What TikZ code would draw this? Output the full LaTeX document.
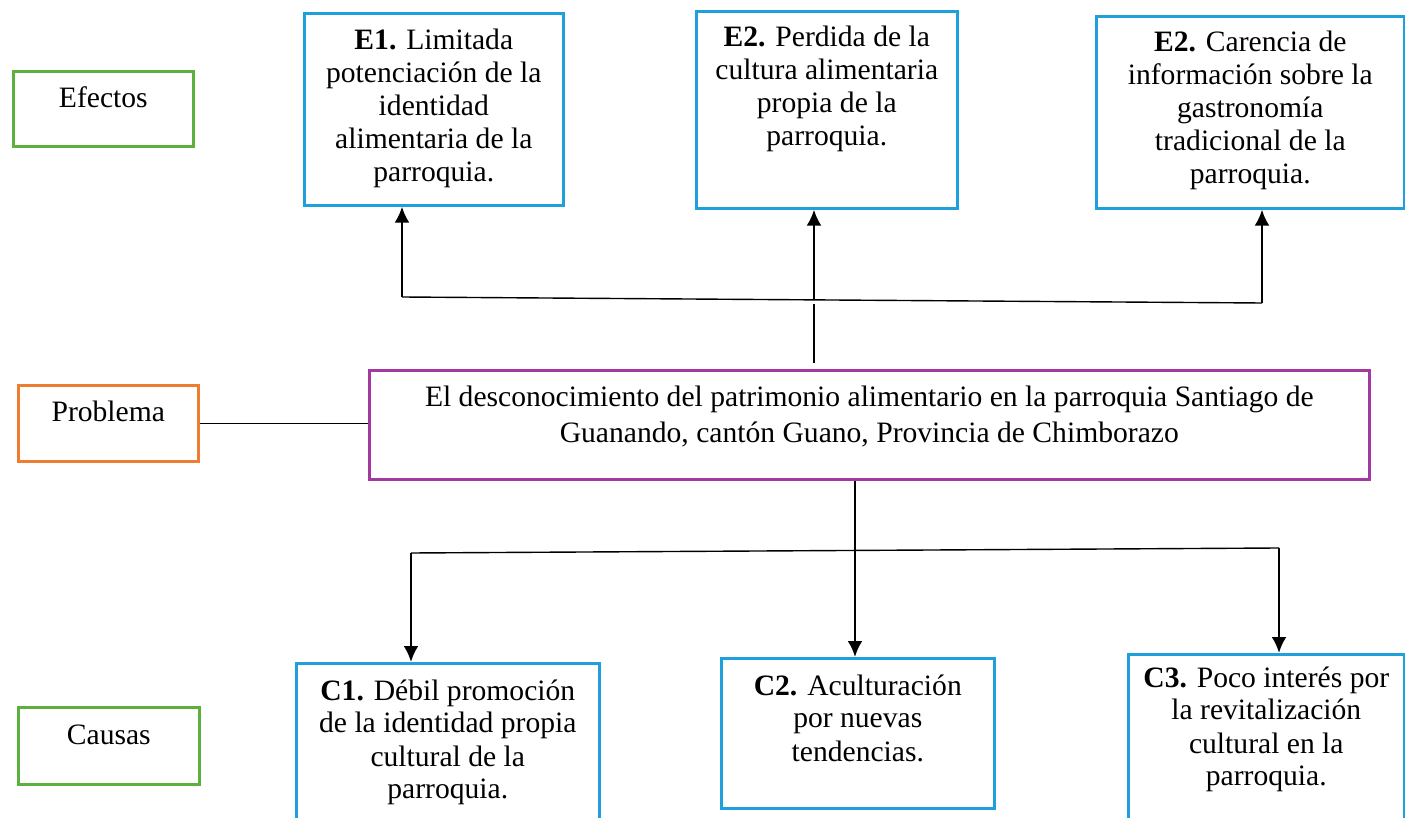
\documentclass[tikz,border=0pt]{standalone}
\usepackage{fontspec}
\setmainfont{Liberation Serif}
\usetikzlibrary{arrows.meta}

\definecolor{boxblue}{RGB}{30,160,218}
\definecolor{boxgreen}{RGB}{92,176,60}
\definecolor{boxorange}{RGB}{237,125,49}
\definecolor{boxpurple}{RGB}{163,57,160}

\tikzset{
  frame/.style={draw=#1, line width=1.3pt, inner sep=0pt, anchor=north west},
  txt/.style={anchor=base, inner sep=0pt},
  conn/.style={line width=0.7pt},
  arr/.style={line width=1.3pt, -{Latex[length=8pt,width=7.5pt]}}
}
\newcommand{\boxtext}[2]{\parbox[t]{#1}{\centering #2}}

\begin{document}
\begin{tikzpicture}[x=0.5pt, y=-0.5pt, font=\fontsize{14.8}{16.5}\selectfont]
        \useasboundingbox (0,0) rectangle (1405,818);
        \clip (0,0) rectangle (1405,818);

        % row labels
        \node[frame=boxgreen, minimum width=90pt, minimum height=37.5pt] (efectos) at (12,70) {};
        \node[frame=boxorange, minimum width=90pt, minimum height=38pt] (problema) at (17,384) {};
        \node[frame=boxgreen, minimum width=90.5pt, minimum height=38.5pt] (causas) at (17,706) {};

        \node[txt] (efectost) at ([yshift=-19pt]efectos.north) {Efectos};
        \node[txt] (problemat) at ([yshift=-19pt]problema.north) {Problema};
        \node[txt] (causast) at ([yshift=-19pt]causas.north) {Causas};

        % effects
        \node[frame=boxblue, minimum width=129.5pt, minimum height=96pt] (e1) at (303,12) {};
        \node[frame=boxblue, minimum width=130.5pt, minimum height=98.5pt] (e2) at (695,10) {};
        \node[frame=boxblue, minimum width=154pt, minimum height=96pt] (e3) at (1095,15) {};

        \node[txt] (e1t) at ([yshift=-19pt]e1.north) {\boxtext{125pt}{\textbf{E1.} Limitada\\potenciación de la\\identidad\\alimentaria de la\\parroquia.}};
        \node[txt] (e2t) at ([yshift=-18.5pt]e2.north) {\boxtext{125pt}{\textbf{E2.} Perdida de la\\cultura alimentaria\\propia de la\\parroquia.}};
        \node[txt] (e3t) at ([yshift=-18.5pt]e3.north) {\boxtext{150pt}{\textbf{E2.} Carencia de\\información sobre la\\gastronomía\\tradicional de la\\parroquia.}};

        % problem
        \node[frame=boxpurple, minimum width=500pt, minimum height=54.5pt] (prob) at (368,369) {};
        \node[txt, font=\fontsize{14.8}{18}\selectfont] (probt) at ([yshift=-19pt]prob.north) {\boxtext{495pt}{El desconocimiento del patrimonio alimentario en la parroquia Santiago de\\Guanando, cantón Guano, Provincia de Chimborazo}};

        % causes
        \node[frame=boxblue, minimum width=151.5pt, minimum height=84pt] (c1) at (295,662) {};
        \node[frame=boxblue, minimum width=136.5pt, minimum height=75pt] (c2) at (720,657) {};
        \node[frame=boxblue, minimum width=138pt, minimum height=88.5pt] (c3) at (1127,653) {};

        \node[txt] (c1t) at ([yshift=-19pt]c1.north) {\boxtext{145pt}{\textbf{C1.} Débil promoción\\de la identidad propia\\cultural de la\\parroquia.}};
        \node[txt] (c2t) at ([yshift=-19pt]c2.north) {\boxtext{130pt}{\textbf{C2.} Aculturación\\por nuevas\\tendencias.}};
        \node[txt] (c3t) at ([yshift=-17pt]c3.north) {\boxtext{135pt}{\textbf{C3.} Poco interés por\\la revitalización\\cultural en la\\parroquia.}};

        % effect connectors
        \coordinate (tl) at (402,297);
        \coordinate (tm) at (814,300);
        \coordinate (tr) at (1262,303);
        \draw[conn] (tl) -- (tr);
        \draw[arr] (tl) -- (tl |- e1.south);
        \draw[arr] (tm) -- (tm |- e2.south);
        \draw[arr] (tr) -- (tr |- e3.south);
        \draw[conn, shorten <=2pt, shorten >=3pt] (tm) -- (tm |- prob.north);

        % problem connector
        \draw[conn] (problema.east) -- (problema.east -| prob.west);

        % cause connectors
        \coordinate (bl) at (411,553);
        \coordinate (bm) at (855,551);
        \coordinate (br) at (1279,548);
        \draw[conn] (bm |- prob.south) -- (bm);
        \draw[conn] (bl) -- (br);
        \draw[arr] (bl) -- (bl |- c1.north);
        \draw[arr] (bm) -- (bm |- c2.north);
        \draw[arr] (br) -- (br |- c3.north);
    \end{tikzpicture}
\end{document}
